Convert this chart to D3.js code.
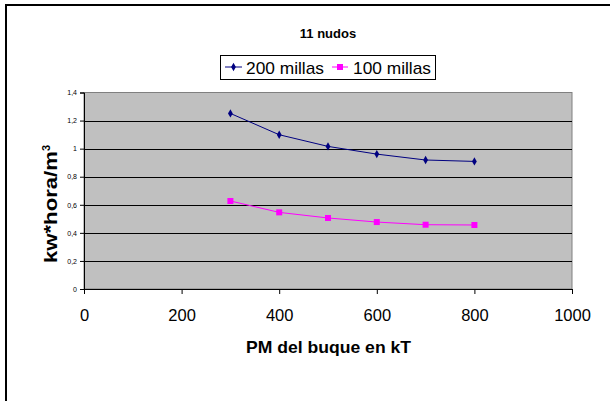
<!DOCTYPE html>
<html><head><meta charset="utf-8">
<script src="https://cdn.jsdelivr.net/npm/d3@7"></script>
<style>body{margin:0;background:#fff}svg{display:block}</style>
</head><body>
<script>
const xValues = [300, 400, 500, 600, 700, 800];
const series200 = [1.251, 1.099, 1.016, 0.961, 0.919, 0.909];
const series100 = [0.627, 0.546, 0.506, 0.477, 0.458, 0.456];
const xTicks = [0, 200, 400, 600, 800, 1000];
const yTicks = [0, 0.2, 0.4, 0.6, 0.8, 1, 1.2, 1.4];
const seriesNames = ["200 millas", "100 millas"];

const W = 610, H = 401;
const svg = d3.select("body").append("svg").attr("width", W).attr("height", H);
const font = "'Liberation Sans', Arial, sans-serif";

svg.append("rect").attr("x", 6).attr("y", 5).attr("width", 640).attr("height", 440)
  .attr("fill", "#fff").attr("stroke", "#000").attr("stroke-width", 2);

const L = 84, R = 572, T = 92.5, B = 289;
const x = d3.scaleLinear().domain([0, 1000]).range([L, R]);
const y = d3.scaleLinear().domain([0, 1.4]).range([B, T]);

svg.append("rect").attr("x", L).attr("y", T).attr("width", R - L).attr("height", B - T)
  .attr("fill", "#c0c0c0").attr("stroke", "#808080").attr("stroke-width", 1);

svg.append("g").selectAll("line").data(yTicks.filter(d => d > 0 && d < 1.4)).join("line")
  .attr("x1", L).attr("x2", R).attr("y1", d => Math.round(y(d)) + 0.5).attr("y2", d => Math.round(y(d)) + 0.5)
  .attr("stroke", "#000").attr("stroke-width", 1);

const fmt = d => String(+d.toFixed(1)).replace(".", ",");
const ya = svg.append("g").attr("transform", `translate(${L},0)`)
  .call(d3.axisLeft(y).tickValues(yTicks).tickFormat(fmt).tickSize(4).tickPadding(3));
ya.select(".domain").attr("stroke", "#000");
ya.selectAll("text").attr("font-family", font).attr("font-size", 7).attr("fill", "#000");

const xa = svg.append("g").attr("transform", `translate(0,${B})`)
  .call(d3.axisBottom(x).tickValues(xTicks).tickFormat(d3.format("d")).tickSize(5).tickPadding(15));
xa.select(".domain").attr("stroke", "#000");
xa.selectAll("text").attr("font-family", font).attr("font-size", 16.5).attr("fill", "#000");

const line = d3.line().x((d, i) => x(xValues[i])).y(d => y(d));
svg.append("path").datum(series200).attr("d", line).attr("fill", "none").attr("stroke", "#000080").attr("stroke-width", 1);
svg.append("path").datum(series100).attr("d", line).attr("fill", "none").attr("stroke", "#ff00ff").attr("stroke-width", 1);

const diamond = d3.symbol().type(d3.symbolDiamond).size(20);
svg.append("g").selectAll("path").data(series200).join("path")
  .attr("d", diamond).attr("transform", (d, i) => `translate(${x(xValues[i])},${y(d)})`).attr("fill", "#000080");
svg.append("g").selectAll("rect").data(series100).join("rect")
  .attr("x", (d, i) => x(xValues[i]) - 3).attr("y", d => y(d) - 3).attr("width", 6).attr("height", 6).attr("fill", "#ff00ff");

svg.append("text").attr("x", 328).attr("y", 38).attr("text-anchor", "middle")
  .attr("font-family", font).attr("font-weight", "bold").attr("font-size", 13).text("11 nudos");

// legend
const lg = svg.append("g");
lg.append("rect").attr("x", 220.5).attr("y", 55.5).attr("width", 215).attr("height", 24).attr("fill", "#fff").attr("stroke", "#000");
lg.append("line").attr("x1", 225).attr("x2", 242).attr("y1", 67).attr("y2", 67).attr("stroke", "#000080");
lg.append("path").attr("d", diamond).attr("transform", "translate(233.5,67)").attr("fill", "#000080");
lg.append("text").attr("x", 246).attr("y", 74).attr("font-family", font).attr("font-size", 17)
  .attr("textLength", 78).attr("lengthAdjust", "spacingAndGlyphs").text(seriesNames[0]);
lg.append("line").attr("x1", 332).attr("x2", 348).attr("y1", 67).attr("y2", 67).attr("stroke", "#ff00ff");
lg.append("rect").attr("x", 337).attr("y", 64).attr("width", 6).attr("height", 6).attr("fill", "#ff00ff");
lg.append("text").attr("x", 353).attr("y", 74).attr("font-family", font).attr("font-size", 17)
  .attr("textLength", 78).attr("lengthAdjust", "spacingAndGlyphs").text(seriesNames[1]);

svg.append("text").attr("x", 328.5).attr("y", 353).attr("text-anchor", "middle")
  .attr("font-family", font).attr("font-weight", "bold").attr("font-size", 17)
  .attr("textLength", 165).attr("lengthAdjust", "spacingAndGlyphs").text("PM del buque en kT");

const yt = svg.append("text").attr("transform", "translate(57,204) rotate(-90)").attr("text-anchor", "middle")
  .attr("font-family", font).attr("font-weight", "bold").attr("font-size", 18);
yt.append("tspan").attr("textLength", 112).attr("lengthAdjust", "spacingAndGlyphs").text("kw*hora/m");
yt.append("tspan").attr("dy", -7).attr("font-size", 11).text("3");
</script>
</body></html>
